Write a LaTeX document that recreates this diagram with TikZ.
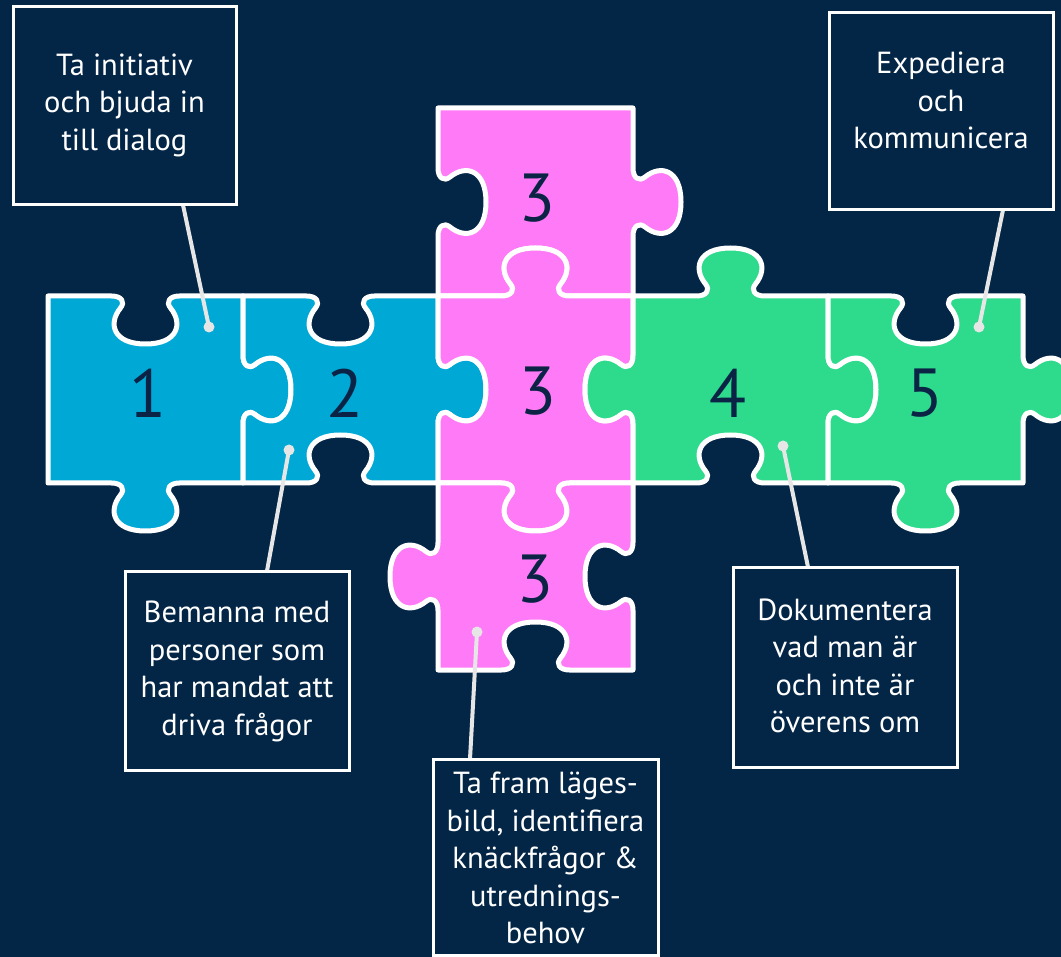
\documentclass[tikz,border=0pt]{standalone}
\usepackage{fontspec}
\setmainfont{PT Sans}
\usetikzlibrary{calc}
\definecolor{bg}{HTML}{032546}
\definecolor{cblue}{HTML}{00A8D6}
\definecolor{cpink}{HTML}{FF7AF6}
\definecolor{cgreen}{HTML}{2EDB8C}
\definecolor{digit}{HTML}{0B2345}
\definecolor{conn}{HTML}{E6E6E6}
\tikzset{
 tabT/.style n args={3}{insert path={
  -- ({#1-34},#2) .. controls ({#1-24},#2) and ({#1-20},{#2-6*(#3)}) .. ({#1-25},{#2-12*(#3)})
  .. controls ({#1-38},{#2-28*(#3)}) and ({#1-32},{#2-48*(#3)}) .. (#1,{#2-48*(#3)})
  .. controls ({#1+32},{#2-48*(#3)}) and ({#1+38},{#2-28*(#3)}) .. ({#1+25},{#2-12*(#3)})
  .. controls ({#1+20},{#2-6*(#3)}) and ({#1+24},#2) .. ({#1+34},#2)}},
 tabR/.style n args={3}{insert path={
  -- (#2,{#1-34}) .. controls (#2,{#1-24}) and ({#2+6*(#3)},{#1-20}) .. ({#2+12*(#3)},{#1-25})
  .. controls ({#2+28*(#3)},{#1-38}) and ({#2+48*(#3)},{#1-32}) .. ({#2+48*(#3)},#1)
  .. controls ({#2+48*(#3)},{#1+32}) and ({#2+28*(#3)},{#1+38}) .. ({#2+12*(#3)},{#1+25})
  .. controls ({#2+6*(#3)},{#1+20}) and (#2,{#1+24}) .. (#2,{#1+34})}},
 tabB/.style n args={3}{insert path={
  -- ({#1+34},#2) .. controls ({#1+24},#2) and ({#1+20},{#2+6*(#3)}) .. ({#1+25},{#2+12*(#3)})
  .. controls ({#1+38},{#2+28*(#3)}) and ({#1+32},{#2+48*(#3)}) .. (#1,{#2+48*(#3)})
  .. controls ({#1-32},{#2+48*(#3)}) and ({#1-38},{#2+28*(#3)}) .. ({#1-25},{#2+12*(#3)})
  .. controls ({#1-20},{#2+6*(#3)}) and ({#1-24},#2) .. ({#1-34},#2)}},
 tabL/.style n args={3}{insert path={
  -- (#2,{#1+34}) .. controls (#2,{#1+24}) and ({#2-6*(#3)},{#1+20}) .. ({#2-12*(#3)},{#1+25})
  .. controls ({#2-28*(#3)},{#1+38}) and ({#2-48*(#3)},{#1+32}) .. ({#2-48*(#3)},#1)
  .. controls ({#2-48*(#3)},{#1-32}) and ({#2-28*(#3)},{#1-38}) .. ({#2-12*(#3)},{#1-25})
  .. controls ({#2-6*(#3)},{#1-20}) and (#2,{#1-24}) .. (#2,{#1-34})}},
 piece/.style={draw=white, line width=5pt, line join=round},
 num/.style={text=digit, font=\fontsize{68}{68}\selectfont, inner sep=0pt},
 box/.style={draw=white, line width=3pt, fill=bg, inner sep=0pt},
 label/.style={text=white, align=center, inner sep=0pt, font=\fontsize{30.5}{37.5}\selectfont},
 conn/.style={draw=conn, line width=4pt},
 dot/.style={fill=conn}
}
\begin{document}
\begin{tikzpicture}[x=1pt,y=-1pt]
\useasboundingbox (0,0) rectangle (1061,957);
\clip (0,0) rectangle (1061,957);
\fill[bg] (0,0) rectangle (1061,957);

% pieces
\path[piece, fill=cblue] (48,296) [tabT={145.5}{296}{-1}] -- (243,296) [tabR={389.5}{243}{1}] -- (243,483) [tabB={145.5}{483}{1}] -- (48,483) -- cycle;
\path[piece, fill=cblue] (243,296) [tabT={340.5}{296}{-1}] -- (438,296) [tabR={389.5}{438}{1}] -- (438,483) [tabB={340.5}{483}{-1}] -- (243,483) [tabL={389.5}{243}{-1}] -- cycle;
\path[piece, fill=cpink] (438,108) -- (633,108) [tabR={202}{633}{1}] -- (633,296) [tabB={535.5}{296}{-1}] -- (438,296) [tabL={202}{438}{-1}] -- cycle;
\path[piece, fill=cpink] (438,296) [tabT={535.5}{296}{1}] -- (633,296) [tabR={389.5}{633}{-1}] -- (633,483) [tabB={535.5}{483}{1}] -- (438,483) [tabL={389.5}{438}{-1}] -- cycle;
\path[piece, fill=cpink] (438,483) [tabT={535.5}{483}{-1}] -- (633,483) [tabR={576.5}{633}{-1}] -- (633,670) [tabB={535.5}{670}{-1}] -- (438,670) [tabL={576.5}{438}{1}] -- cycle;
\path[piece, fill=cgreen] (633,296) [tabT={730.5}{296}{1}] -- (828,296) [tabR={389.5}{828}{1}] -- (828,483) [tabB={730.5}{483}{-1}] -- (633,483) [tabL={389.5}{633}{1}] -- cycle;
\path[piece, fill=cgreen] (828,296) [tabT={925.5}{296}{-1}] -- (1023,296) [tabR={389.5}{1023}{1}] -- (1023,483) [tabB={925.5}{483}{1}] -- (828,483) [tabL={389.5}{828}{-1}] -- cycle;

% numbers
\node[num] (n1) at (148,393) {1};
\node[num] (n2) at (345,393) {2};
\node[num] (n3t) at (537,198) {3};
\node[num] (n3m) at (538,391) {3};
\node[num] (n3b) at (535,579) {3};
\node[num] (n4) at (728,393) {4};
\node[num] (n5) at (925,393) {5};

% dots
\coordinate (d1) at (209,327);
\coordinate (d2) at (289,450);
\coordinate (d3) at (477,632);
\coordinate (d4) at (783,446);
\coordinate (d5) at (979,327);

% connector ends on the boxes
\coordinate (e1) at (183,205);
\coordinate (e2) at (267,571);
\coordinate (e3) at (470,759);
\coordinate (e4) at (808,567);
\coordinate (e5) at (1003,210);

\draw[conn] (d1) -- (e1);
\draw[conn] (d2) -- (e2);
\draw[conn] (d3) -- (e3);
\draw[conn] (d4) -- (e4);
\draw[conn] (d5) -- (e5);
\foreach \d in {d1,d2,d3,d4,d5} \fill[dot] (\d) circle (5.5);

\node[box, minimum width=223pt, minimum height=198pt] (b1) at (124.5,106) {};
\node[box, minimum width=224pt, minimum height=199pt] (b2) at (237,670.5) {};
\node[box, minimum width=225pt, minimum height=196pt] (b3) at (545.5,857) {};
\node[box, minimum width=224pt, minimum height=200pt] (b4) at (845,667) {};
\node[box, minimum width=224pt, minimum height=197pt] (b5) at (941,111.5) {};

\node[label] (t1) at ($(b1)+(0,-1)$) {Ta initiativ\\och bjuda in\\till dialog};
\node[label] (t2) at ($(b2)+(0,1)$) {Bemanna med\\personer som\\har mandat att\\driva frågor};
\node[label] (t3) at ($(b3)+(0,1)$) {Ta fram läges-\\bild, identifiera\\knäckfrågor \&\\utrednings-\\behov};
\node[label] (t4) at ($(b4)+(0,-1)$) {Dokumentera\\vad man är\\och inte är\\överens om};
\node[label] (t5) at ($(b5)+(0,-11)$) {Expediera\\och\\kommunicera};
\end{tikzpicture}
\end{document}
